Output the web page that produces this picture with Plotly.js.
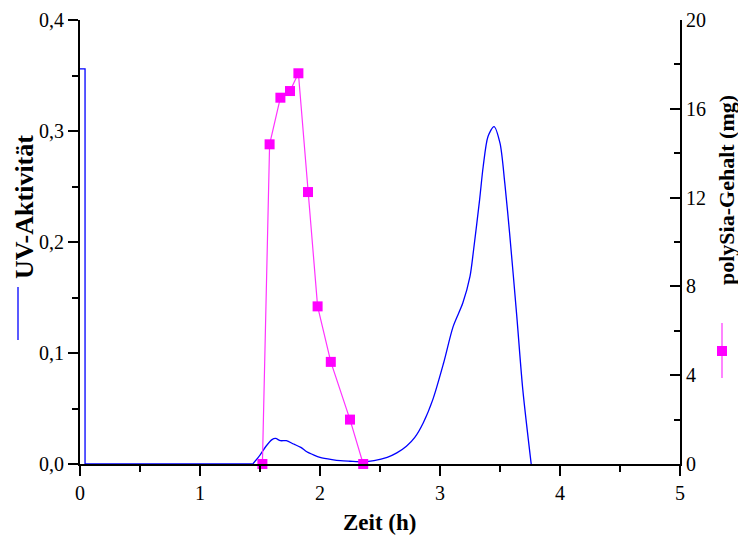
<!DOCTYPE html>
<html>
<head>
<meta charset="utf-8">
<script src="https://cdn.plot.ly/plotly-3.0.1.min.js"></script>
<style>html,body{margin:0;padding:0;background:#fff;}#chart{width:738px;height:536px;}</style>
</head>
<body>
<div id="chart"></div>
<script>
// UV activity (left axis): initial step segment and chromatogram
const uvStepTime  = [0, 0.042, 0.042, 1.44];
const uvStepValue = [0.356, 0.356, 0, 0];
const uvTime  = [1.44, 1.5, 1.55, 1.6, 1.63, 1.67, 1.72, 1.78, 1.84, 1.89, 1.95, 2.0, 2.1, 2.17, 2.25, 2.36, 2.45, 2.56, 2.64, 2.72, 2.79, 2.86, 2.94, 3.03, 3.11, 3.19, 3.25, 3.28, 3.33, 3.36, 3.40, 3.45, 3.50, 3.54, 3.58, 3.64, 3.69, 3.76];
const uvValue = [0, 0.008, 0.016, 0.022, 0.023, 0.021, 0.021, 0.018, 0.015, 0.011, 0.008, 0.006, 0.004, 0.003, 0.0025, 0.002, 0.003, 0.006, 0.010, 0.016, 0.024, 0.037, 0.058, 0.091, 0.124, 0.145, 0.169, 0.193, 0.238, 0.268, 0.295, 0.304, 0.289, 0.253, 0.208, 0.133, 0.067, 0];
// polySia content (right axis, mg)
const siaTime  = [1.52, 1.58, 1.67, 1.75, 1.82, 1.90, 1.98, 2.09, 2.25, 2.36];
const siaValue = [0, 14.4, 16.5, 16.8, 17.6, 12.25, 7.1, 4.6, 2.0, 0];
// tick labels
const xTicks = [0, 1, 2, 3, 4, 5];
const xTickText = ["0", "1", "2", "3", "4", "5"];
const yTicks = [0, 0.1, 0.2, 0.3, 0.4];
const yTickText = ["0,0", "0,1", "0,2", "0,3", "0,4"];
const y2Ticks = [0, 4, 8, 12, 16, 20];
const y2TickText = ["0", "4", "8", "12", "16", "20"];

const FONT = "Liberation Serif, Times New Roman, serif";
const W = 738, H = 536, L = 80, R = 58, T = 20, B = 72;
const pw = W - L - R, ph = H - T - B;
const px = v => (v - L) / pw;
const py = v => (H - B - v) / ph;

const traces = [
  {x: uvStepTime, y: uvStepValue, type: 'scatter', mode: 'lines', line: {color: '#0000ff', width: 1.3}, yaxis: 'y', cliponaxis: false},
  {x: uvTime, y: uvValue, type: 'scatter', mode: 'lines', line: {color: '#0000ff', width: 1.3, shape: 'spline', smoothing: 0.8}, yaxis: 'y', cliponaxis: false},
  {x: siaTime, y: siaValue, type: 'scatter', mode: 'lines+markers', line: {color: '#ff33ff', width: 1.2},
   marker: {symbol: 'square', size: 10, color: '#ff00ff'}, yaxis: 'y2', cliponaxis: false}
];

const axisCommon = {showgrid: false, zeroline: false, showline: true, linecolor: '#000', linewidth: 2,
  tickcolor: '#000', tickwidth: 2, ticklen: 10, tickfont: {family: FONT, size: 20, color: '#000'}, fixedrange: true};

const layout = {
  width: W, height: H,
  margin: {l: L, r: R, t: T, b: B, pad: 0},
  paper_bgcolor: '#fff', plot_bgcolor: '#fff',
  showlegend: false,
  xaxis: Object.assign({}, axisCommon, {range: [0, 5], tickmode: 'array', tickvals: xTicks, ticktext: xTickText, ticks: 'outside',
    minor: {dtick: 0.5, tick0: 0, ticks: 'outside', ticklen: 6, tickwidth: 2, tickcolor: '#000'}}),
  yaxis: Object.assign({}, axisCommon, {range: [0, 0.4], tickmode: 'array', tickvals: yTicks, ticktext: yTickText, ticks: 'outside',
    minor: {dtick: 0.05, tick0: 0, ticks: 'outside', ticklen: 6, tickwidth: 2, tickcolor: '#000'}}),
  yaxis2: Object.assign({}, axisCommon, {range: [0, 20], overlaying: 'y', side: 'right', tickmode: 'array', tickvals: y2Ticks, ticktext: y2TickText,
    ticks: 'inside', minor: {dtick: 2, tick0: 0, ticks: 'inside', ticklen: 6, tickwidth: 2, tickcolor: '#000'}}),
  annotations: [
    {text: '<b>UV-Aktivität</b>', xref: 'paper', yref: 'paper', x: px(24), y: py(207), textangle: -90, showarrow: false,
     font: {family: FONT, size: 26, color: '#000'}, xanchor: 'center', yanchor: 'middle'},
    {text: '<b>polySia-Gehalt (mg)</b>', xref: 'paper', yref: 'paper', x: px(726), y: py(190), textangle: -90, showarrow: false,
     font: {family: FONT, size: 22, color: '#000'}, xanchor: 'center', yanchor: 'middle'},
    {text: '<b>Zeit (h)</b>', xref: 'paper', yref: 'paper', x: px(379), y: py(522), showarrow: false,
     font: {family: FONT, size: 23, color: '#000'}, xanchor: 'center', yanchor: 'middle'}
  ],
  shapes: [
    {type: 'line', xref: 'paper', yref: 'paper', x0: px(18), x1: px(18), y0: py(287), y1: py(340), line: {color: '#0000ff', width: 1.3}},
    {type: 'line', xref: 'paper', yref: 'paper', x0: px(722), x1: px(722), y0: py(323), y1: py(378), line: {color: '#ff33ff', width: 1.2}},
    {type: 'rect', xref: 'paper', yref: 'paper', x0: px(717), x1: px(727), y0: py(346), y1: py(356), line: {width: 0}, fillcolor: '#ff00ff'}
  ]
};

Plotly.newPlot('chart', traces, layout, {displayModeBar: false, staticPlot: true});
</script>
</body>
</html>
